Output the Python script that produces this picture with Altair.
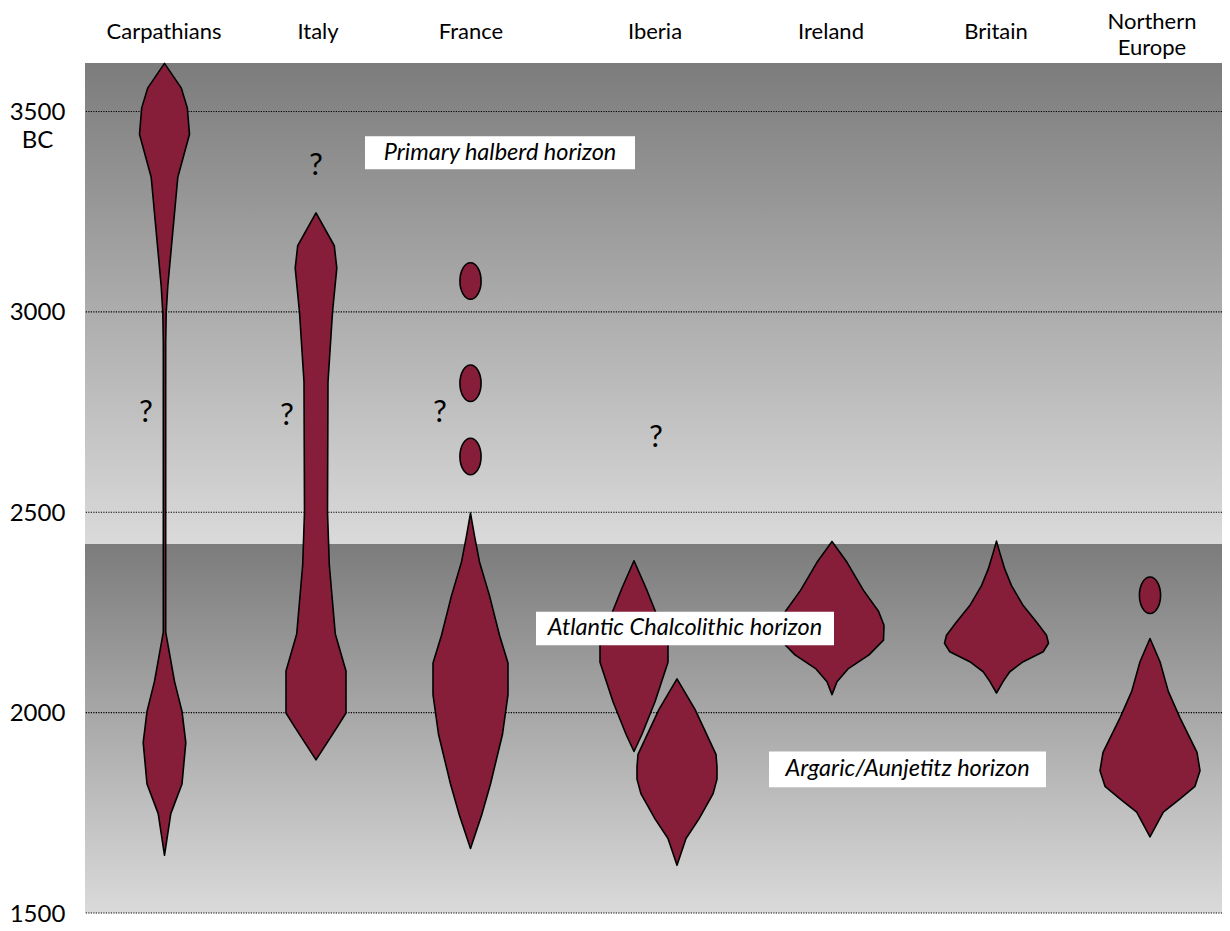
import altair as alt
import pandas as pd

# ---------------- data ----------------
PLOT_W, PLOT_H = 1137, 850
Y_MIN, Y_MAX = 1500, 3621
BAND_SPLIT = 2421

col_names = ["Carpathians", "Italy", "France", "Iberia", "Ireland", "Britain", "Northern\nEurope"]
col_x = [79, 233, 386, 570, 746, 911, 1067]

grid_years = [1500, 2000, 2500, 3000, 3500]

# violin outlines: centre, years (BC) and half-widths
carp_x = 79.5
carp_years = [3620, 3559, 3509, 3443, 3336, 3064, 2998, 2923, 2201, 2078, 2003, 1925, 1822, 1748, 1644]
carp_hw = [0, 16.7, 22.8, 25, 13.3, 3.3, 1.7, 1.2, 1.2, 10, 17.5, 21.3, 17.5, 6.3, 0]

italy_x = 231
italy_years = [3247, 3165, 3109, 2999, 2825, 2501, 2369, 2196, 2104, 1999, 1967, 1882]
italy_hw = [0, 18.3, 20.8, 16.5, 12, 11.5, 13.3, 19.3, 30, 30, 22, 0]

france_x = 385.5
france_years = [2498, 2441, 2376, 2292, 2193, 2124, 2045, 1946, 1822, 1743, 1661]
france_hw = [0, 4, 9, 19, 29, 37.5, 37.5, 32, 20, 11, 0]

iberia1_x = 549
iberia1_years = [2379, 2309, 2255, 2168, 2126, 2027, 1946, 1903]
iberia1_hw = [0, 12.3, 21, 34, 34, 21, 8, 0]

iberia2_x = 592
iberia2_years = [2084, 2008, 1896, 1864, 1834, 1797, 1735, 1686, 1619]
iberia2_hw = [0, 18, 39, 40, 40, 36, 22, 9, 0]

ireland_x = 747
ireland_years = [2427, 2375, 2305, 2253, 2218, 2181, 2144, 2109, 2077, 2045]
ireland_hw = [0, 15, 31.5, 46.5, 52, 51.5, 37, 16, 5, 0]

britain_x = 911.5
britain_years = [2428, 2399, 2358, 2317, 2267, 2226, 2193, 2173, 2152, 2127, 2102, 2078, 2049]
britain_hw = [0, 3.3, 8.3, 15, 26.7, 40, 50, 52, 46.7, 26.7, 13.3, 6.7, 0]

neur_x = 1065
neur_years = [2185, 2127, 2053, 1987, 1901, 1855, 1816, 1785, 1752, 1690]
neur_hw = [0, 10, 18.3, 30, 47, 50, 45, 30, 13.3, 0]

# isolated finds (ellipses)
dot_x = [385.5, 385.5, 385.5, 1065]
dot_years = [3077, 2822, 2639, 2293]

# question marks
q_x = [231, 61, 202, 355, 571]
q_years = [3364, 2747, 2740, 2747, 2686]

# horizon annotations
ann_text = ["Primary halberd horizon", "Atlantic Chalcolithic horizon", "Argaric/Aunjetitz horizon"]
ann_x0 = [280, 451, 684]
ann_x1 = [550, 749, 961]
ann_top = [3438, 2252, 1903]
ann_bottom = [3356, 2168, 1814]

MAROON = "#861e3a"
FONT = "Lato"

# ---------------- tables ----------------
shapes = [
    ("carp", carp_x, carp_years, carp_hw),
    ("italy", italy_x, italy_years, italy_hw),
    ("france", france_x, france_years, france_hw),
    ("iberia1", iberia1_x, iberia1_years, iberia1_hw),
    ("iberia2", iberia2_x, iberia2_years, iberia2_hw),
    ("ireland", ireland_x, ireland_years, ireland_hw),
    ("britain", britain_x, britain_years, britain_hw),
    ("neur", neur_x, neur_years, neur_hw),
]
rows = []
for sid, cx, yrs, hws in shapes:
    for yv, hv in zip(yrs, hws):
        rows.append({"shape": sid, "year": yv, "left": cx - hv, "right": cx + hv})
shape_df = pd.DataFrame(rows)

bg_df = pd.DataFrame({"top": [Y_MAX, BAND_SPLIT], "bottom": [BAND_SPLIT, Y_MIN],
                      "x0": [0, 0], "x1": [PLOT_W, PLOT_W]})
grid_df = pd.DataFrame({"year": grid_years})
dot_df = pd.DataFrame({"x": dot_x, "year": dot_years})
q_df = pd.DataFrame({"x": q_x, "year": q_years, "t": ["?"] * len(q_x)})
ann_df = pd.DataFrame({"text": ann_text, "x0": ann_x0, "x1": ann_x1, "top": ann_top, "bottom": ann_bottom})
ann_df["xm"] = (ann_df["x0"] + ann_df["x1"]) / 2
ann_df["ym"] = (ann_df["top"] + ann_df["bottom"]) / 2
col_df = pd.DataFrame({"name": col_names, "x": col_x})
single_df = col_df[~col_df["name"].str.contains("\n")]
multi_df = col_df[col_df["name"].str.contains("\n")]

# ---------------- scales / axes ----------------
xs = alt.Scale(domain=[0, PLOT_W], nice=False, zero=False)
ys = alt.Scale(domain=[Y_MIN, Y_MAX], nice=False, zero=False)

yaxis = alt.Axis(
    values=grid_years, format="d",
    labelExpr="datum.value == 3500 ? ['3500', 'BC'] : datum.label",
    labelFont=FONT, labelFontSize=24, labelColor="black",
    labelAlign="center", labelBaseline="top", labelOffset=-11, labelLineHeight=28,
    labelPadding=48, ticks=False, tickSize=0, domain=False, grid=False, title=None,
    labelOverlap=False,
)

gradient = alt.Gradient(
    gradient="linear", x1=0, x2=0, y1=0, y2=1,
    stops=[alt.GradientStop(color="#7c7c7c", offset=0),
           alt.GradientStop(color="#dadada", offset=1)],
)

bg = alt.Chart(bg_df).mark_rect(fill=gradient).encode(
    x=alt.X("x0:Q", scale=xs, axis=None), x2="x1:Q",
    y=alt.Y("top:Q", scale=ys, axis=yaxis), y2="bottom:Q",
)

grid = alt.Chart(grid_df).mark_rule(color="black", strokeDash=[1.2, 1.3], strokeWidth=1.2).encode(
    y=alt.Y("year:Q", scale=ys)
)

violins = alt.Chart(shape_df).mark_area(
    orient="horizontal", fill=MAROON, stroke="black", strokeWidth=1.6, strokeJoin="round", fillOpacity=1
).encode(
    y=alt.Y("year:Q", scale=ys),
    x=alt.X("left:Q", scale=xs, stack=None),
    x2="right:Q",
    detail="shape:N",
)

ELLIPSE = "M0,-1A0.58,1,0,1,1,0,1A0.58,1,0,1,1,0,-1Z"
dots = alt.Chart(dot_df).mark_point(
    shape=ELLIPSE, size=1330, filled=True, fill=MAROON, stroke="black", strokeWidth=1.6,
    opacity=1, fillOpacity=1, strokeOpacity=1,
).encode(x=alt.X("x:Q", scale=xs), y=alt.Y("year:Q", scale=ys))

qmarks = alt.Chart(q_df).mark_text(font=FONT, fontSize=31, color="black").encode(
    x=alt.X("x:Q", scale=xs), y=alt.Y("year:Q", scale=ys), text="t:N"
)

boxes = alt.Chart(ann_df).mark_rect(fill="white").encode(
    x=alt.X("x0:Q", scale=xs), x2="x1:Q", y=alt.Y("top:Q", scale=ys), y2="bottom:Q"
)
ann_txt = alt.Chart(ann_df).mark_text(font=FONT, fontStyle="italic", fontSize=23.5, color="black").encode(
    x=alt.X("xm:Q", scale=xs), y=alt.Y("ym:Q", scale=ys), text="text:N"
)

cols1 = alt.Chart(single_df).mark_text(
    font=FONT, fontSize=22, color="black", baseline="middle"
).encode(x=alt.X("x:Q", scale=xs), y=alt.value(-31), text="name:N")
cols2 = alt.Chart(multi_df).mark_text(
    font=FONT, fontSize=22, color="black", lineBreak="\n", lineHeight=26, baseline="middle"
).encode(x=alt.X("x:Q", scale=xs), y=alt.value(-41), text="name:N")

chart = alt.layer(bg, grid, violins, dots, qmarks, boxes, ann_txt, cols1, cols2).properties(
    width=PLOT_W, height=PLOT_H,
    autosize=alt.AutoSizeParams(type="none"),
    padding={"left": 77, "top": 55, "right": 0, "bottom": 16},
).configure_view(stroke=None)

chart.save("out.html", embed_options={"renderer": "svg", "actions": False})
